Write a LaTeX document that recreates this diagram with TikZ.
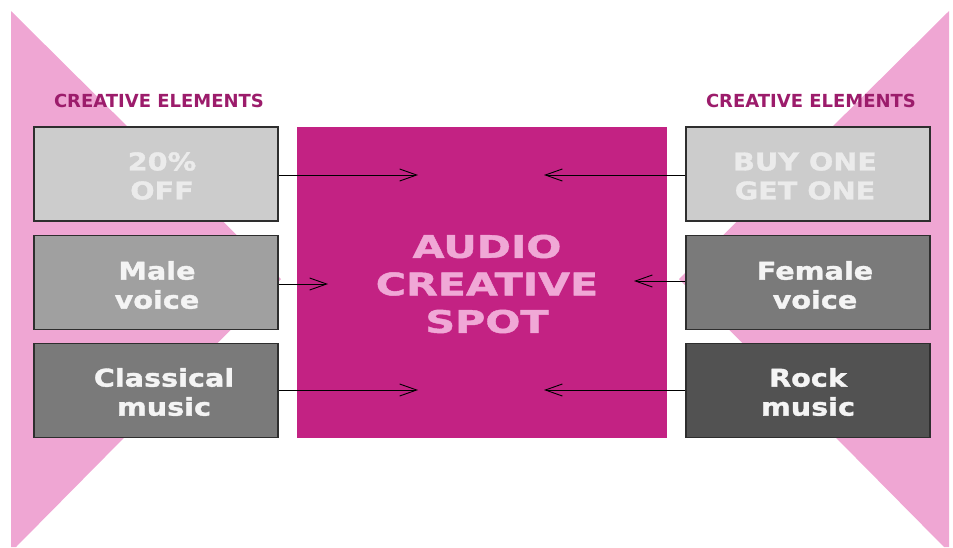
\documentclass[tikz,border=0pt]{standalone}
\usepackage{fontspec}
\usetikzlibrary{arrows.meta}
\newfontfamily\boxfont[FakeStretch=1.17,FakeBold=1.4]{DejaVu Sans Bold}
\newfontfamily\spotfont[FakeStretch=1.33,FakeBold=1.4]{DejaVu Sans Bold}
\newfontfamily\labfont{DejaVu Sans Bold}
\definecolor{tri}{HTML}{EFA6D3}
\definecolor{spot}{HTML}{C32283}
\definecolor{spottext}{HTML}{F0A8D6}
\definecolor{lab}{HTML}{9C1C6B}
\definecolor{gA}{HTML}{CCCCCC}
\definecolor{gB}{HTML}{A0A0A0}
\definecolor{gC}{HTML}{7A7A7A}
\definecolor{gD}{HTML}{525252}
\definecolor{txtA}{HTML}{EBEBEB}
\definecolor{txtB}{HTML}{F4F4F4}
\definecolor{edge}{HTML}{2E2E2E}
\tikzset{
  elbox/.style={draw=edge, line width=1.2pt, minimum width=244pt, minimum height=94pt, inner sep=0pt},
  eltext/.style={font=\boxfont\fontsize{24.5}{29}\selectfont, text=txtB, align=center, inner sep=0pt},
  labtext/.style={font=\labfont\fontsize{18}{20}\selectfont, text=lab, inner sep=0pt},
  arr/.style={-{Straight Barb[length=17pt,width=12pt]}, line width=0.9pt, black},
}
\begin{document}
\begin{tikzpicture}[x=1pt,y=-1pt]
\useasboundingbox (0,0) rectangle (953,547);
% background triangles
\fill[tri] (11,11) -- (281,279) -- (16,547) -- (11,547) -- cycle;
\fill[tri] (949,11) -- (679,279) -- (944,547) -- (949,547) -- cycle;
% labels
\node[labtext] (labL) at (159,101) {CREATIVE ELEMENTS};
\node[labtext] (labR) at (811,101) {CREATIVE ELEMENTS};
% center spot
\node[fill=spot, minimum width=370pt, minimum height=311pt, inner sep=0pt] (spot) at (482,282.5) {};
\node[font=\spotfont\fontsize{31}{37.5}\selectfont, text=spottext, align=center, inner sep=0pt] (spottxt) at (487,284) {AUDIO\\CREATIVE\\SPOT};
% left boxes
\node[elbox, fill=gA] (b1) at (156,174) {};
\node[elbox, fill=gB] (b2) at (156,282.5) {};
\node[elbox, fill=gC] (b3) at (156,390.5) {};
\node[eltext, text=txtA] (t1) at (162,176) {20\%\\OFF};
\node[eltext] (t2) at (157,285) {Male\\voice};
\node[eltext] (t3) at (164,392) {Classical\\music};
% right boxes
\node[elbox, fill=gA] (b4) at (808,174) {};
\node[elbox, fill=gC] (b5) at (808,282.5) {};
\node[elbox, fill=gD] (b6) at (808,390.5) {};
\node[eltext, text=txtA] (t4) at (805,176) {BUY ONE\\GET ONE};
\node[eltext] (t5) at (815,285) {Female\\voice};
\node[eltext] (t6) at (808,392) {Rock\\music};
% arrow ends
\coordinate (e1) at (418,175);
\coordinate (e2) at (328,284);
\coordinate (e3) at (418,390);
\coordinate (e4) at (544,175);
\coordinate (e5) at (634,281);
\coordinate (e6) at (544,390);
\draw[arr] (b1.east |- e1) -- (e1);
\draw[arr] (b2.east |- e2) -- (e2);
\draw[arr] (b3.east |- e3) -- (e3);
\draw[arr] (b4.west |- e4) -- (e4);
\draw[arr] (b5.west |- e5) -- (e5);
\draw[arr] (b6.west |- e6) -- (e6);
\end{tikzpicture}
\end{document}
